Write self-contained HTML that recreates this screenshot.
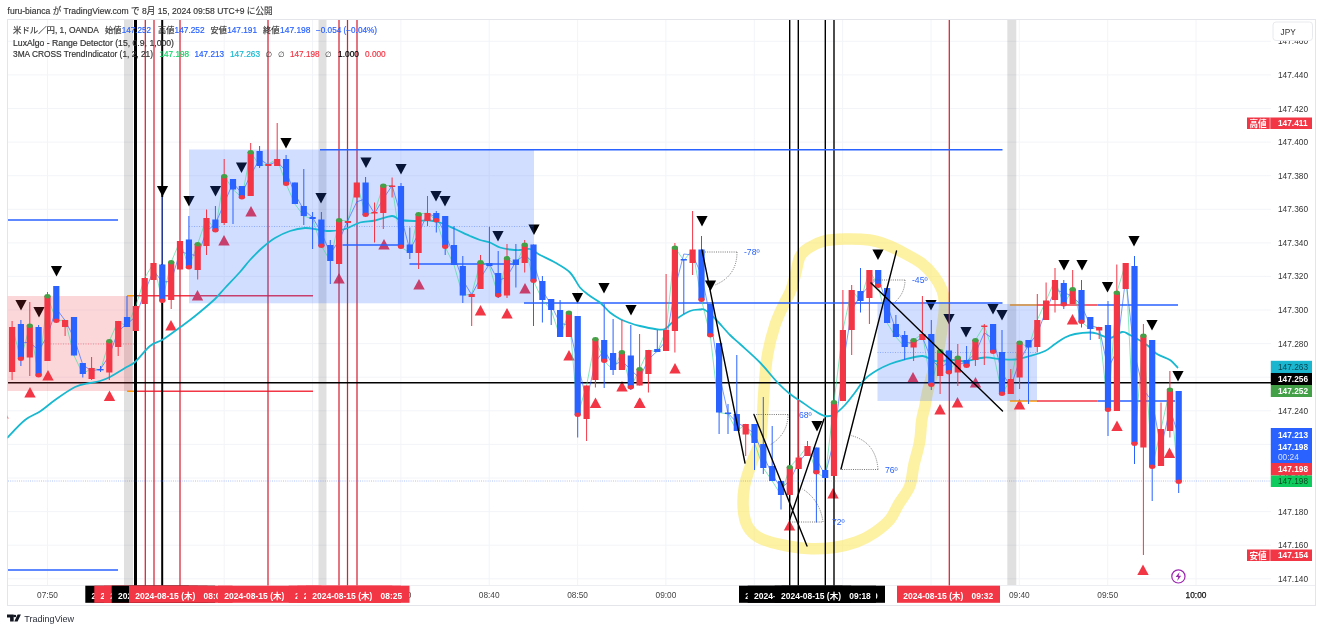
<!DOCTYPE html>
<html lang="ja"><head><meta charset="utf-8"><title>USDJPY chart</title>
<style>html,body{margin:0;padding:0;background:#fff}body{width:1323px;height:631px;overflow:hidden}</style></head>
<body>
<svg width="1323" height="631" viewBox="0 0 1323 631" style="display:block">
<defs><clipPath id="cp"><rect x="7.5" y="19.5" width="1264" height="566"/></clipPath></defs>
<rect width="1323" height="631" fill="#fff"/>
<rect x="7.5" y="19.5" width="1308" height="586" fill="#fff" stroke="#e4e5ea" stroke-width="1"/>
<path d="M8 41.3H1271 M8 74.9H1271 M8 108.5H1271 M8 142.1H1271 M8 175.7H1271 M8 209.3H1271 M8 242.9H1271 M8 276.4H1271 M8 310.0H1271 M8 343.6H1271 M8 377.2H1271 M8 410.8H1271 M8 444.4H1271 M8 478.0H1271 M8 511.6H1271 M8 545.2H1271 M8 578.8H1271 M47.5 20V585 M135.8 20V585 M224.2 20V585 M312.5 20V585 M400.9 20V585 M489.2 20V585 M577.6 20V585 M665.9 20V585 M754.3 20V585 M842.6 20V585 M931.0 20V585 M1019.3 20V585 M1107.7 20V585 M1196.0 20V585" stroke="#f3f4f8" stroke-width="1" fill="none"/>
<path d="M8 585.5H1315" stroke="#eceef2" stroke-width="1"/>
<g clip-path="url(#cp)">
<rect x="124" y="20" width="9" height="565" fill="rgba(0,0,0,0.12)"/>
<rect x="318.5" y="20" width="8.0" height="565" fill="rgba(0,0,0,0.12)"/>
<rect x="1007.3" y="20" width="9.0" height="565" fill="rgba(0,0,0,0.12)"/>
<path d="M845.0 239.0C837.4 239.2 830.1 239.5 824.0 241.0C817.9 242.5 812.5 245.4 808.5 248.0C804.5 250.6 802.1 252.6 800.0 256.6C797.9 260.6 797.5 266.4 796.0 272.0C794.5 277.6 793.0 284.7 791.0 290.0C789.0 295.3 786.7 298.2 784.0 304.0C781.3 309.8 777.8 316.5 775.0 325.0C772.2 333.5 769.3 344.2 767.5 355.0C765.7 365.8 764.9 378.3 764.0 390.0C763.1 401.7 762.7 416.3 762.0 425.0C761.3 433.7 761.8 435.4 760.0 442.0C758.2 448.6 753.6 457.0 751.0 464.4C748.4 471.8 745.7 479.1 744.4 486.5C743.1 493.9 742.8 502.0 743.3 508.7C743.8 515.4 745.1 521.7 747.7 526.5C750.3 531.3 753.6 534.5 758.8 537.5C764.0 540.5 770.7 542.4 778.8 544.2C786.9 546.1 798.4 548.1 807.6 548.6C816.8 549.1 825.9 548.6 834.0 547.5C842.1 546.4 849.7 544.4 856.4 542.0C863.1 539.6 868.5 536.7 874.0 533.0C879.5 529.3 885.6 524.6 889.7 519.8C893.8 515.0 895.2 509.9 898.5 504.3C901.8 498.8 907.0 493.1 909.6 486.5C912.2 479.9 912.3 471.8 914.0 464.4C915.7 457.0 918.3 449.4 919.6 442.0C920.9 434.6 920.9 425.8 921.8 420.0C922.7 414.2 923.8 412.0 924.8 407.0C925.8 402.0 925.9 398.7 928.0 390.0C930.1 381.3 935.0 366.3 937.5 355.0C940.0 343.7 941.8 330.7 943.0 322.0C944.2 313.3 944.7 308.3 944.5 303.0C944.3 297.7 943.8 294.5 942.0 290.0C940.2 285.5 937.3 280.4 934.0 276.0C930.7 271.6 927.0 267.4 922.0 263.6C917.0 259.8 909.8 256.1 904.0 253.0C898.2 249.9 892.8 247.2 887.0 245.0C881.2 242.8 876.5 241.0 869.5 240.0C862.5 239.0 852.6 238.8 845.0 239.0" fill="none" stroke="#fbe96a" stroke-opacity="0.62" stroke-width="11.5" stroke-linejoin="round" stroke-linecap="round"/>
<path d="M15.4 300h11.2l-5.6 10.5z" fill="#000"/>
<path d="M33.4 307h11.2l-5.6 10.5z" fill="#000"/>
<path d="M50.9 266h11.2l-5.6 10.5z" fill="#000"/>
<path d="M156.9 186h11.2l-5.6 10.5z" fill="#000"/>
<path d="M183.4 196h11.2l-5.6 10.5z" fill="#000"/>
<path d="M209.9 186h11.2l-5.6 10.5z" fill="#000"/>
<path d="M235.9 162.5h11.2l-5.6 10.5z" fill="#000"/>
<path d="M280.4 138h11.2l-5.6 10.5z" fill="#000"/>
<path d="M315.4 193h11.2l-5.6 10.5z" fill="#000"/>
<path d="M360.4 157.5h11.2l-5.6 10.5z" fill="#000"/>
<path d="M395.4 164h11.2l-5.6 10.5z" fill="#000"/>
<path d="M430.4 191h11.2l-5.6 10.5z" fill="#000"/>
<path d="M439.4 196h11.2l-5.6 10.5z" fill="#000"/>
<path d="M492.4 231h11.2l-5.6 10.5z" fill="#000"/>
<path d="M528.4 224.5h11.2l-5.6 10.5z" fill="#000"/>
<path d="M571.9 293h11.2l-5.6 10.5z" fill="#000"/>
<path d="M598.4 283h11.2l-5.6 10.5z" fill="#000"/>
<path d="M625.4 305h11.2l-5.6 10.5z" fill="#000"/>
<path d="M696.4 216h11.2l-5.6 10.5z" fill="#000"/>
<path d="M704.9 280.5h11.2l-5.6 10.5z" fill="#000"/>
<path d="M811.4 421h11.2l-5.6 10.5z" fill="#000"/>
<path d="M872.4 249.5h11.2l-5.6 10.5z" fill="#000"/>
<path d="M925.4 300h11.2l-5.6 10.5z" fill="#000"/>
<path d="M943.4 314h11.2l-5.6 10.5z" fill="#000"/>
<path d="M960.4 327h11.2l-5.6 10.5z" fill="#000"/>
<path d="M987.4 304h11.2l-5.6 10.5z" fill="#000"/>
<path d="M996.4 310h11.2l-5.6 10.5z" fill="#000"/>
<path d="M1058.4 260h11.2l-5.6 10.5z" fill="#000"/>
<path d="M1076.4 260h11.2l-5.6 10.5z" fill="#000"/>
<path d="M1101.9 282h11.2l-5.6 10.5z" fill="#000"/>
<path d="M1128.4 236h11.2l-5.6 10.5z" fill="#000"/>
<path d="M1146.4 320h11.2l-5.6 10.5z" fill="#000"/>
<path d="M1172.4 371h11.2l-5.6 10.5z" fill="#000"/>
<path d="M42.3 380.5h11.4l-5.7 -10.5z" fill="#f23645"/>
<path d="M24.3 397.5h11.4l-5.7 -10.5z" fill="#f23645"/>
<path d="M103.8 401.0h11.4l-5.7 -10.5z" fill="#f23645"/>
<path d="M165.3 330.5h11.4l-5.7 -10.5z" fill="#f23645"/>
<path d="M191.8 300.5h11.4l-5.7 -10.5z" fill="#f23645"/>
<path d="M218.3 245.5h11.4l-5.7 -10.5z" fill="#f23645"/>
<path d="M245.3 216.5h11.4l-5.7 -10.5z" fill="#f23645"/>
<path d="M333.3 283.5h11.4l-5.7 -10.5z" fill="#f23645"/>
<path d="M378.3 249.5h11.4l-5.7 -10.5z" fill="#f23645"/>
<path d="M413.3 289.5h11.4l-5.7 -10.5z" fill="#f23645"/>
<path d="M519.3 293.5h11.4l-5.7 -10.5z" fill="#f23645"/>
<path d="M474.8 315.5h11.4l-5.7 -10.5z" fill="#f23645"/>
<path d="M501.3 318.5h11.4l-5.7 -10.5z" fill="#f23645"/>
<path d="M563.3 360.5h11.4l-5.7 -10.5z" fill="#f23645"/>
<path d="M589.8 408.0h11.4l-5.7 -10.5z" fill="#f23645"/>
<path d="M616.3 391.5h11.4l-5.7 -10.5z" fill="#f23645"/>
<path d="M633.8 408.0h11.4l-5.7 -10.5z" fill="#f23645"/>
<path d="M669.3 373.5h11.4l-5.7 -10.5z" fill="#f23645"/>
<path d="M634.3 408.0h11.4l-5.7 -10.5z" fill="#f23645"/>
<path d="M907.3 382.5h11.4l-5.7 -10.5z" fill="#f23645"/>
<path d="M934.3 414.5h11.4l-5.7 -10.5z" fill="#f23645"/>
<path d="M951.8 407.5h11.4l-5.7 -10.5z" fill="#f23645"/>
<path d="M969.8 387.5h11.4l-5.7 -10.5z" fill="#f23645"/>
<path d="M1013.8 409.5h11.4l-5.7 -10.5z" fill="#f23645"/>
<path d="M1066.8 324.5h11.4l-5.7 -10.5z" fill="#f23645"/>
<path d="M1111.3 431.0h11.4l-5.7 -10.5z" fill="#f23645"/>
<path d="M1163.8 458.0h11.4l-5.7 -10.5z" fill="#f23645"/>
<path d="M783.8 530.5h11.4l-5.7 -10.5z" fill="#f23645"/>
<path d="M827.3 498.5h11.4l-5.7 -10.5z" fill="#f23645"/>
<path d="M1137.3 575.0h11.4l-5.7 -10.5z" fill="#f23645"/>
<path d="M-2.7 418.5h11.4l-5.7 -10.5z" fill="#f23645"/>
<path d="M135 295.7H313M135 391.2H313M1037 305H1097.5M1037 401H1097.5" stroke="#f23645" stroke-width="1.5"/>
<path d="M127 295.7H135M127 391.2H135M1010 305H1037M1010 401H1037" stroke="#ff9800" stroke-width="1.5"/>
<path d="M145.3 20V586" stroke="#d42236" stroke-width="1.25"/>
<path d="M154 20V586" stroke="#d42236" stroke-width="1.25"/>
<path d="M180 20V586" stroke="#d42236" stroke-width="1.25"/>
<path d="M268 20V586" stroke="#d42236" stroke-width="1.25"/>
<path d="M339 20V586" stroke="#d42236" stroke-width="1.25"/>
<path d="M347.5 20V586" stroke="#d42236" stroke-width="1.25"/>
<path d="M357 20V586" stroke="#d42236" stroke-width="1.25"/>
<path d="M949.3 20V586" stroke="#d42236" stroke-width="1.25"/>
<path d="M135.5 20V586" stroke="#000" stroke-width="3"/>
<path d="M162.2 20V197M162.2 264V586" stroke="#000" stroke-width="2"/>
<path d="M162.2 197V265" stroke="#1c2f8f" stroke-width="1.5"/>
<path d="M789.7 20V586" stroke="#000" stroke-width="1.4"/>
<path d="M798.3 20V586" stroke="#000" stroke-width="1.4"/>
<path d="M825.3 20V586" stroke="#000" stroke-width="1.4"/>
<path d="M834 20V586" stroke="#000" stroke-width="1.4"/>
<path d="M8 382.7H1271" stroke="#000" stroke-width="1.6"/>
<rect x="7.5" y="296" width="125" height="95" fill="rgba(242,54,69,0.2)"/>
<rect x="189" y="149.5" width="131" height="153.8" fill="rgba(41,98,255,0.21)"/>
<rect x="320" y="149.5" width="214" height="153.8" fill="rgba(41,98,255,0.21)"/>
<rect x="877.5" y="304" width="159.5" height="97" fill="rgba(41,98,255,0.21)"/>
<path d="M8 220H118M8 570H118" stroke="#2962ff" stroke-width="1.6"/>
<path d="M320 149.7H1002.5M524 303H1002.5M1097.5 305H1178M1097.5 401H1175" stroke="#2962ff" stroke-width="1.6"/>
<path d="M342.5 245H400M409.5 264H517.5" stroke="#2962ff" stroke-width="1.6"/>
<path d="M48 344H135" stroke="#f23645" stroke-width="0.8" stroke-dasharray="1 1.5" opacity="0.6"/>
<path d="M189 226.5H534" stroke="#2962ff" stroke-width="0.8" stroke-dasharray="1 1.5" opacity="0.5"/>
<path d="M877.5 352.5H1037" stroke="#2962ff" stroke-width="0.8" stroke-dasharray="1 1.5" opacity="0.5"/>
<path d="M8 481H1271" stroke="#2962ff" stroke-width="0.7" stroke-dasharray="1 1.2" opacity="0.55"/>
<polyline points="12.1,327.0 20.9,359.0 29.8,325.5 38.6,375.5 47.5,296.0 56.3,321.0 65.1,320.0 74.0,355.5 82.8,374.0 91.6,368.0 100.5,370.2 109.3,341.0 118.2,321.0 127.0,327.0 135.8,306.0 144.7,278.0 153.5,263.0 162.3,301.0 171.2,262.0 180.0,241.0 188.9,267.5 197.7,244.0 206.5,218.0 215.4,230.5 224.2,176.0 233.0,189.5 241.9,197.5 250.7,152.0 259.6,166.0 268.4,164.0 277.2,159.0 286.1,184.0 294.9,204.0 303.8,216.0 312.6,219.0 321.4,246.0 330.3,261.0 339.1,220.0 347.9,221.0 356.8,182.5 365.6,215.0 374.5,212.0 383.3,185.5 392.1,185.5 401.0,247.0 409.8,253.0 418.6,214.0 427.5,213.0 436.3,220.5 445.2,247.0 454.0,265.0 462.8,295.5 471.7,294.0 480.5,262.0 489.4,266.0 498.2,295.5 507.0,258.0 515.9,265.0 524.7,244.5 533.5,281.0 542.4,300.0 551.2,310.0 560.1,337.0 568.9,312.5 577.7,415.0 586.6,385.5 595.4,339.0 604.2,361.0 613.1,370.0 621.9,352.0 630.8,387.5 639.6,369.0 648.4,350.0 657.3,352.0 666.1,330.0 674.9,247.5 683.8,260.5 692.6,249.5 701.5,300.0 710.3,335.5 719.1,412.5 728.0,414.0 736.8,431.0 745.7,424.0 754.5,443.0 763.3,468.0 772.2,481.0 781.0,495.0 789.8,467.0 798.7,457.5 807.5,446.0 816.4,472.5 825.2,478.0 834.0,402.0 842.9,330.0 851.7,290.0 860.5,301.0 869.4,270.0 878.2,286.0 887.1,323.0 895.9,337.0 904.7,347.0 913.6,340.0 922.4,334.0 931.3,385.0 940.1,351.0 948.9,372.5 957.8,357.5 966.6,366.0 975.4,340.0 984.3,325.5 993.1,352.0 1002.0,394.0 1010.8,379.0 1019.6,342.5 1028.5,347.5 1037.3,320.0 1046.1,300.5 1055.0,280.0 1063.8,304.5 1072.7,289.0 1081.5,322.0 1090.3,329.0 1099.2,327.0 1108.0,410.0 1116.8,292.5 1125.7,263.0 1134.5,444.0 1143.4,335.5 1152.2,467.0 1161.0,429.0 1169.9,389.5 1178.7,482.0" fill="none" stroke="#3ddc97" stroke-width="0.8" opacity="0.8"/>
<polyline points="20.9,343.0 29.8,342.2 38.6,350.5 47.5,335.8 56.3,308.5 65.1,320.5 74.0,337.8 82.8,364.8 91.6,371.0 100.5,369.1 109.3,355.6 118.2,331.0 127.0,324.0 135.8,316.5 144.7,292.0 153.5,270.5 162.3,282.0 171.2,281.5 180.0,251.5 188.9,254.2 197.7,255.8 206.5,231.0 215.4,224.2 224.2,203.2 233.0,182.8 241.9,193.5 250.7,174.8 259.6,159.0 268.4,165.0 277.2,161.5 286.1,171.5 294.9,194.0 303.8,210.0 312.6,217.5 321.4,232.5 330.3,253.5 339.1,240.5 347.9,220.5 356.8,201.8 365.6,198.8 374.5,213.5 383.3,198.8 392.1,185.5 401.0,216.2 409.8,250.0 418.6,233.5 427.5,213.5 436.3,216.8 445.2,233.8 454.0,256.0 462.8,280.2 471.7,294.8 480.5,278.0 489.4,264.0 498.2,280.8 507.0,276.8 515.9,261.5 524.7,254.8 533.5,262.8 542.4,290.5 551.2,305.0 560.1,323.5 568.9,324.8 577.7,363.8 586.6,400.2 595.4,362.2 604.2,350.0 613.1,365.5 621.9,361.0 630.8,369.8 639.6,378.2 648.4,359.5 657.3,351.0 666.1,341.0 674.9,288.8 683.8,254.0 692.6,255.0 701.5,274.8 710.3,317.8 719.1,374.0 728.0,413.2 736.8,422.5 745.7,427.5 754.5,433.5 763.3,455.5 772.2,474.5 781.0,488.0 789.8,481.0 798.7,462.2 807.5,451.8 816.4,459.2 825.2,475.2 834.0,440.0 842.9,366.0 851.7,310.0 860.5,295.5 869.4,285.5 878.2,278.0 887.1,304.5 895.9,330.0 904.7,342.0 913.6,343.5 922.4,337.0 931.3,359.5 940.1,368.0 948.9,361.8 957.8,365.0 966.6,361.8 975.4,353.0 984.3,332.8 993.1,338.8 1002.0,373.0 1010.8,386.5 1019.6,360.8 1028.5,345.0 1037.3,333.8 1046.1,310.2 1055.0,290.2 1063.8,292.2 1072.7,296.8 1081.5,305.5 1090.3,325.5 1099.2,328.0 1108.0,368.5 1116.8,351.2 1125.7,277.8 1134.5,353.5 1143.4,389.8 1152.2,401.2 1161.0,448.0 1169.9,409.2 1178.7,435.8" fill="none" stroke="#2962ff" stroke-width="0.8" opacity="0.8"/>
<path d="M7.0 438.0C10.0 435.0 19.5 424.4 25.0 420.0C30.5 415.6 35.0 414.8 40.0 411.5C45.0 408.2 49.2 404.1 55.0 400.0C60.8 395.9 69.2 389.8 75.0 387.0C80.8 384.2 85.8 384.0 90.0 383.0C94.2 382.0 96.7 382.0 100.0 381.0C103.3 380.0 105.8 379.2 110.0 377.0C114.2 374.8 120.8 370.5 125.0 368.0C129.2 365.5 130.8 365.7 135.0 362.0C139.2 358.3 145.5 349.7 150.0 346.0C154.5 342.3 157.8 342.5 162.0 340.0C166.2 337.5 170.3 334.3 175.0 331.0C179.7 327.7 185.8 323.2 190.0 320.0C194.2 316.8 195.8 315.5 200.0 312.0C204.2 308.5 210.8 303.0 215.0 299.0C219.2 295.0 220.8 292.5 225.0 288.0C229.2 283.5 235.8 276.7 240.0 272.0C244.2 267.3 246.3 264.0 250.0 260.0C253.7 256.0 257.8 251.7 262.0 248.0C266.2 244.3 270.3 240.8 275.0 238.0C279.7 235.2 285.0 232.7 290.0 231.0C295.0 229.3 300.0 228.2 305.0 228.0C310.0 227.8 315.8 229.5 320.0 230.0C324.2 230.5 325.8 231.2 330.0 231.0C334.2 230.8 340.0 230.4 345.0 229.0C350.0 227.6 355.0 223.9 360.0 222.5C365.0 221.1 369.7 221.6 375.0 220.5C380.3 219.4 387.8 216.1 392.0 216.0C396.2 215.9 396.2 219.2 400.0 220.0C403.8 220.8 410.0 220.9 415.0 221.0C420.0 221.1 425.8 220.2 430.0 220.5C434.2 220.8 435.8 221.1 440.0 222.5C444.2 223.9 450.0 226.8 455.0 229.0C460.0 231.2 465.8 234.2 470.0 236.0C474.2 237.8 476.7 238.9 480.0 240.0C483.3 241.1 486.7 241.2 490.0 242.5C493.3 243.8 496.7 246.3 500.0 247.5C503.3 248.7 506.7 249.1 510.0 249.5C513.3 249.9 516.7 250.1 520.0 250.0C523.3 249.9 526.7 248.2 530.0 249.0C533.3 249.8 535.8 252.8 540.0 255.0C544.2 257.2 550.0 259.6 555.0 262.5C560.0 265.4 565.8 268.3 570.0 272.5C574.2 276.7 576.7 283.6 580.0 287.5C583.3 291.4 586.7 293.5 590.0 296.0C593.3 298.5 596.7 299.8 600.0 302.5C603.3 305.2 606.7 309.8 610.0 312.5C613.3 315.2 616.7 317.2 620.0 319.0C623.3 320.8 626.7 321.8 630.0 323.0C633.3 324.2 635.8 325.0 640.0 326.0C644.2 327.0 650.8 328.5 655.0 329.0C659.2 329.5 661.7 330.5 665.0 329.0C668.3 327.5 670.8 323.0 675.0 320.0C679.2 317.0 685.8 312.8 690.0 311.0C694.2 309.2 697.5 309.7 700.0 309.5C702.5 309.3 702.5 308.5 705.0 310.0C707.5 311.5 710.8 314.3 715.0 318.5C719.2 322.7 725.8 330.8 730.0 335.0C734.2 339.2 735.0 339.4 740.0 344.0C745.0 348.6 753.8 356.1 760.0 362.5C766.2 368.9 772.5 377.2 777.5 382.5C782.5 387.8 785.8 390.7 790.0 394.0C794.2 397.3 798.3 399.7 802.5 402.5C806.7 405.3 811.2 408.8 815.0 411.0C818.8 413.2 821.8 415.4 825.0 416.0C828.2 416.6 830.7 416.3 834.0 414.5C837.3 412.7 841.5 408.7 845.0 405.0C848.5 401.3 851.7 396.8 855.0 392.5C858.3 388.2 861.2 382.8 865.0 379.0C868.8 375.2 873.3 372.5 877.5 370.0C881.7 367.5 885.8 365.7 890.0 364.0C894.2 362.3 897.1 361.3 902.5 360.0C907.9 358.7 917.1 355.8 922.5 356.0C927.9 356.2 930.0 360.3 935.0 361.0C940.0 361.7 947.5 360.0 952.5 360.0C957.5 360.0 959.6 361.4 965.0 361.0C970.4 360.6 979.2 357.8 985.0 357.5C990.8 357.2 995.0 358.7 1000.0 359.0C1005.0 359.3 1010.0 360.0 1015.0 359.5C1020.0 359.0 1025.0 357.4 1030.0 356.0C1035.0 354.6 1040.8 353.0 1045.0 351.0C1049.2 349.0 1051.7 346.2 1055.0 344.0C1058.3 341.8 1061.7 339.2 1065.0 337.5C1068.3 335.8 1070.8 334.8 1075.0 334.0C1079.2 333.2 1086.2 332.5 1090.0 332.5C1093.8 332.5 1094.7 333.1 1098.0 334.0C1101.3 334.9 1106.0 338.3 1110.0 338.0C1114.0 337.7 1118.7 332.5 1122.0 332.0C1125.3 331.5 1125.8 332.8 1130.0 335.0C1134.2 337.2 1142.5 341.8 1147.0 345.0C1151.5 348.2 1153.2 351.5 1157.0 354.0C1160.8 356.5 1166.5 357.7 1170.0 360.0C1173.5 362.3 1176.7 366.7 1178.0 368.0" fill="none" stroke="#17b8d0" stroke-width="1.8" stroke-linejoin="round"/>
<path d="M12.1 321V380" stroke="#f23645" stroke-width="1"/>
<rect x="9.0" y="327" width="6.2" height="45.0" fill="#f23645"/>
<path d="M20.9 320V366" stroke="#2962ff" stroke-width="1"/>
<rect x="17.8" y="324" width="6.2" height="35.0" fill="#2962ff"/>
<ellipse cx="20.9" cy="358.7" rx="3.1" ry="2.2" fill="#f23645"/>
<path d="M29.8 302V376" stroke="#f23645" stroke-width="1"/>
<rect x="26.7" y="325.5" width="6.2" height="32.0" fill="#f23645"/>
<ellipse cx="29.8" cy="325.8" rx="3.1" ry="2.2" fill="#43a047"/>
<path d="M38.6 325V377" stroke="#2962ff" stroke-width="1"/>
<rect x="35.5" y="327" width="6.2" height="48.5" fill="#2962ff"/>
<ellipse cx="38.6" cy="375.2" rx="3.1" ry="2.2" fill="#f23645"/>
<path d="M47.5 292V361" stroke="#f23645" stroke-width="1"/>
<rect x="44.4" y="296" width="6.2" height="65.0" fill="#f23645"/>
<ellipse cx="47.5" cy="296.3" rx="3.1" ry="2.2" fill="#43a047"/>
<path d="M56.3 286V321" stroke="#2962ff" stroke-width="1"/>
<rect x="53.2" y="286" width="6.2" height="35.0" fill="#2962ff"/>
<ellipse cx="56.3" cy="320.7" rx="3.1" ry="2.2" fill="#f23645"/>
<path d="M65.1 320V336" stroke="#f23645" stroke-width="1"/>
<rect x="62.0" y="320" width="6.2" height="7.0" fill="#f23645"/>
<path d="M74.0 317V355.5" stroke="#2962ff" stroke-width="1"/>
<rect x="70.9" y="317" width="6.2" height="38.5" fill="#2962ff"/>
<path d="M82.8 363V377.5" stroke="#2962ff" stroke-width="1"/>
<rect x="79.7" y="363" width="6.2" height="11.0" fill="#2962ff"/>
<path d="M91.6 357V380" stroke="#f23645" stroke-width="1"/>
<rect x="88.5" y="368" width="6.2" height="11.0" fill="#f23645"/>
<path d="M100.5 366V372" stroke="#2962ff" stroke-width="1"/>
<rect x="97.4" y="369" width="6.2" height="1.4" fill="#2962ff"/>
<path d="M109.3 341V380" stroke="#f23645" stroke-width="1"/>
<rect x="106.2" y="341" width="6.2" height="31.5" fill="#f23645"/>
<ellipse cx="109.3" cy="341.3" rx="3.1" ry="2.2" fill="#43a047"/>
<path d="M118.2 321V356" stroke="#f23645" stroke-width="1"/>
<rect x="115.1" y="321" width="6.2" height="26.0" fill="#f23645"/>
<path d="M127.0 296V327" stroke="#2962ff" stroke-width="1"/>
<rect x="123.9" y="317" width="6.2" height="10.0" fill="#2962ff"/>
<path d="M135.8 306V331" stroke="#f23645" stroke-width="1"/>
<rect x="132.7" y="306" width="6.2" height="25.0" fill="#f23645"/>
<path d="M144.7 278V304" stroke="#f23645" stroke-width="1"/>
<rect x="141.6" y="278" width="6.2" height="26.0" fill="#f23645"/>
<path d="M153.5 263V280" stroke="#f23645" stroke-width="1"/>
<rect x="150.4" y="263" width="6.2" height="17.0" fill="#f23645"/>
<path d="M162.3 264.5V301" stroke="#2962ff" stroke-width="1"/>
<rect x="159.2" y="264.5" width="6.2" height="36.5" fill="#2962ff"/>
<ellipse cx="162.3" cy="300.7" rx="3.1" ry="2.2" fill="#f23645"/>
<path d="M171.2 262V309" stroke="#f23645" stroke-width="1"/>
<rect x="168.1" y="262" width="6.2" height="38.0" fill="#f23645"/>
<ellipse cx="171.2" cy="262.3" rx="3.1" ry="2.2" fill="#43a047"/>
<path d="M180.0 241V269.5" stroke="#f23645" stroke-width="1"/>
<rect x="176.9" y="241" width="6.2" height="28.5" fill="#f23645"/>
<path d="M188.9 216V267.5" stroke="#2962ff" stroke-width="1"/>
<rect x="185.8" y="239.5" width="6.2" height="28.0" fill="#2962ff"/>
<ellipse cx="188.9" cy="267.2" rx="3.1" ry="2.2" fill="#f23645"/>
<path d="M197.7 244V279.5" stroke="#f23645" stroke-width="1"/>
<rect x="194.6" y="244" width="6.2" height="26.0" fill="#f23645"/>
<ellipse cx="197.7" cy="244.3" rx="3.1" ry="2.2" fill="#43a047"/>
<path d="M206.5 209.5V255" stroke="#f23645" stroke-width="1"/>
<rect x="203.4" y="218" width="6.2" height="28.0" fill="#f23645"/>
<path d="M215.4 206V230.5" stroke="#2962ff" stroke-width="1"/>
<rect x="212.3" y="219.5" width="6.2" height="11.0" fill="#2962ff"/>
<ellipse cx="215.4" cy="230.2" rx="3.1" ry="2.2" fill="#f23645"/>
<path d="M224.2 159V225" stroke="#f23645" stroke-width="1"/>
<rect x="221.1" y="176" width="6.2" height="47.0" fill="#f23645"/>
<ellipse cx="224.2" cy="176.3" rx="3.1" ry="2.2" fill="#43a047"/>
<path d="M233.0 179V224" stroke="#2962ff" stroke-width="1"/>
<rect x="229.9" y="179" width="6.2" height="10.5" fill="#2962ff"/>
<path d="M241.9 186V197.5" stroke="#2962ff" stroke-width="1"/>
<rect x="238.8" y="186" width="6.2" height="11.5" fill="#2962ff"/>
<ellipse cx="241.9" cy="197.2" rx="3.1" ry="2.2" fill="#f23645"/>
<path d="M250.7 143V196" stroke="#f23645" stroke-width="1"/>
<rect x="247.6" y="152" width="6.2" height="44.0" fill="#f23645"/>
<ellipse cx="250.7" cy="152.3" rx="3.1" ry="2.2" fill="#43a047"/>
<path d="M259.6 146V168" stroke="#2962ff" stroke-width="1"/>
<rect x="256.5" y="151" width="6.2" height="15.0" fill="#2962ff"/>
<path d="M268.4 164V166" stroke="#f23645" stroke-width="1"/>
<rect x="265.3" y="164" width="6.2" height="2.0" fill="#f23645"/>
<path d="M277.2 123V166" stroke="#f23645" stroke-width="1"/>
<rect x="274.1" y="159" width="6.2" height="7.0" fill="#f23645"/>
<path d="M286.1 155V184" stroke="#2962ff" stroke-width="1"/>
<rect x="283.0" y="159" width="6.2" height="25.0" fill="#2962ff"/>
<ellipse cx="286.1" cy="183.7" rx="3.1" ry="2.2" fill="#f23645"/>
<path d="M294.9 182.5V204" stroke="#2962ff" stroke-width="1"/>
<rect x="291.8" y="182.5" width="6.2" height="21.5" fill="#2962ff"/>
<path d="M303.8 169V225" stroke="#2962ff" stroke-width="1"/>
<rect x="300.7" y="206" width="6.2" height="10.0" fill="#2962ff"/>
<path d="M312.6 212V249" stroke="#2962ff" stroke-width="1"/>
<rect x="309.5" y="217" width="6.2" height="2.0" fill="#2962ff"/>
<path d="M321.4 212V246" stroke="#2962ff" stroke-width="1"/>
<rect x="318.3" y="219.5" width="6.2" height="26.5" fill="#2962ff"/>
<ellipse cx="321.4" cy="245.7" rx="3.1" ry="2.2" fill="#f23645"/>
<path d="M330.3 240V284" stroke="#2962ff" stroke-width="1"/>
<rect x="327.2" y="245" width="6.2" height="16.0" fill="#2962ff"/>
<path d="M339.1 220V264" stroke="#f23645" stroke-width="1"/>
<rect x="336.0" y="220" width="6.2" height="44.0" fill="#f23645"/>
<ellipse cx="339.1" cy="220.3" rx="3.1" ry="2.2" fill="#43a047"/>
<path d="M347.9 221V223" stroke="#f23645" stroke-width="1"/>
<rect x="344.8" y="221" width="6.2" height="2.0" fill="#f23645"/>
<path d="M356.8 182.5V197.5" stroke="#f23645" stroke-width="1"/>
<rect x="353.7" y="182.5" width="6.2" height="15.0" fill="#f23645"/>
<path d="M365.6 177V215" stroke="#2962ff" stroke-width="1"/>
<rect x="362.5" y="182.5" width="6.2" height="32.5" fill="#2962ff"/>
<ellipse cx="365.6" cy="214.7" rx="3.1" ry="2.2" fill="#f23645"/>
<path d="M374.5 202.5V242.5" stroke="#f23645" stroke-width="1"/>
<rect x="371.4" y="212" width="6.2" height="1.5" fill="#f23645"/>
<path d="M383.3 185.5V229" stroke="#f23645" stroke-width="1"/>
<rect x="380.2" y="185.5" width="6.2" height="27.5" fill="#f23645"/>
<ellipse cx="383.3" cy="185.8" rx="3.1" ry="2.2" fill="#43a047"/>
<path d="M392.1 177.5V197.5" stroke="#f23645" stroke-width="1"/>
<rect x="389.0" y="185.5" width="6.2" height="1.5" fill="#f23645"/>
<path d="M401.0 183V247" stroke="#2962ff" stroke-width="1"/>
<rect x="397.9" y="186" width="6.2" height="61.0" fill="#2962ff"/>
<ellipse cx="401.0" cy="246.7" rx="3.1" ry="2.2" fill="#f23645"/>
<path d="M409.8 227.5V259" stroke="#2962ff" stroke-width="1"/>
<rect x="406.7" y="244.5" width="6.2" height="8.5" fill="#2962ff"/>
<path d="M418.6 214V269" stroke="#f23645" stroke-width="1"/>
<rect x="415.5" y="214" width="6.2" height="39.0" fill="#f23645"/>
<ellipse cx="418.6" cy="214.3" rx="3.1" ry="2.2" fill="#43a047"/>
<path d="M427.5 196V226" stroke="#f23645" stroke-width="1"/>
<rect x="424.4" y="213" width="6.2" height="8.0" fill="#f23645"/>
<path d="M436.3 211V232.5" stroke="#2962ff" stroke-width="1"/>
<rect x="433.2" y="213" width="6.2" height="7.5" fill="#2962ff"/>
<ellipse cx="436.3" cy="220.2" rx="3.1" ry="2.2" fill="#f23645"/>
<path d="M445.2 216V255" stroke="#2962ff" stroke-width="1"/>
<rect x="442.1" y="216" width="6.2" height="31.0" fill="#2962ff"/>
<ellipse cx="445.2" cy="246.7" rx="3.1" ry="2.2" fill="#f23645"/>
<path d="M454.0 226V265" stroke="#2962ff" stroke-width="1"/>
<rect x="450.9" y="245" width="6.2" height="20.0" fill="#2962ff"/>
<path d="M462.8 256V303" stroke="#2962ff" stroke-width="1"/>
<rect x="459.7" y="266" width="6.2" height="29.5" fill="#2962ff"/>
<path d="M471.7 294V326" stroke="#f23645" stroke-width="1"/>
<rect x="468.6" y="294" width="6.2" height="3.0" fill="#f23645"/>
<path d="M480.5 255V289" stroke="#f23645" stroke-width="1"/>
<rect x="477.4" y="262" width="6.2" height="27.0" fill="#f23645"/>
<ellipse cx="480.5" cy="262.3" rx="3.1" ry="2.2" fill="#43a047"/>
<path d="M489.4 227V266" stroke="#2962ff" stroke-width="1"/>
<rect x="486.3" y="263" width="6.2" height="3.0" fill="#2962ff"/>
<path d="M498.2 251V298" stroke="#2962ff" stroke-width="1"/>
<rect x="495.1" y="273" width="6.2" height="22.5" fill="#2962ff"/>
<ellipse cx="498.2" cy="295.2" rx="3.1" ry="2.2" fill="#f23645"/>
<path d="M507.0 244V298" stroke="#f23645" stroke-width="1"/>
<rect x="503.9" y="258" width="6.2" height="37.5" fill="#f23645"/>
<ellipse cx="507.0" cy="258.3" rx="3.1" ry="2.2" fill="#43a047"/>
<path d="M515.9 244V287.5" stroke="#2962ff" stroke-width="1"/>
<rect x="512.8" y="259.5" width="6.2" height="5.5" fill="#2962ff"/>
<path d="M524.7 240V272.5" stroke="#f23645" stroke-width="1"/>
<rect x="521.6" y="244.5" width="6.2" height="18.5" fill="#f23645"/>
<ellipse cx="524.7" cy="244.8" rx="3.1" ry="2.2" fill="#43a047"/>
<path d="M533.5 244.5V326" stroke="#2962ff" stroke-width="1"/>
<rect x="530.4" y="244.5" width="6.2" height="36.5" fill="#2962ff"/>
<ellipse cx="533.5" cy="280.7" rx="3.1" ry="2.2" fill="#f23645"/>
<path d="M542.4 276V322.5" stroke="#2962ff" stroke-width="1"/>
<rect x="539.3" y="281" width="6.2" height="19.0" fill="#2962ff"/>
<path d="M551.2 299V325" stroke="#2962ff" stroke-width="1"/>
<rect x="548.1" y="299" width="6.2" height="11.0" fill="#2962ff"/>
<path d="M560.1 300V337" stroke="#2962ff" stroke-width="1"/>
<rect x="557.0" y="310" width="6.2" height="27.0" fill="#2962ff"/>
<path d="M568.9 312.5V337" stroke="#f23645" stroke-width="1"/>
<rect x="565.8" y="312.5" width="6.2" height="24.5" fill="#f23645"/>
<ellipse cx="568.9" cy="312.8" rx="3.1" ry="2.2" fill="#43a047"/>
<path d="M577.7 316V437.5" stroke="#2962ff" stroke-width="1"/>
<rect x="574.6" y="316" width="6.2" height="99.0" fill="#2962ff"/>
<ellipse cx="577.7" cy="414.7" rx="3.1" ry="2.2" fill="#f23645"/>
<path d="M586.6 385.5V441" stroke="#f23645" stroke-width="1"/>
<rect x="583.5" y="385.5" width="6.2" height="33.5" fill="#f23645"/>
<path d="M595.4 339V387.5" stroke="#f23645" stroke-width="1"/>
<rect x="592.3" y="339" width="6.2" height="41.0" fill="#f23645"/>
<ellipse cx="595.4" cy="339.3" rx="3.1" ry="2.2" fill="#43a047"/>
<path d="M604.2 304V388" stroke="#2962ff" stroke-width="1"/>
<rect x="601.1" y="340" width="6.2" height="21.0" fill="#2962ff"/>
<ellipse cx="604.2" cy="360.7" rx="3.1" ry="2.2" fill="#f23645"/>
<path d="M613.1 319V375" stroke="#2962ff" stroke-width="1"/>
<rect x="610.0" y="353" width="6.2" height="17.0" fill="#2962ff"/>
<path d="M621.9 320V370" stroke="#f23645" stroke-width="1"/>
<rect x="618.8" y="352" width="6.2" height="18.0" fill="#f23645"/>
<ellipse cx="621.9" cy="352.3" rx="3.1" ry="2.2" fill="#43a047"/>
<path d="M630.8 325V390" stroke="#2962ff" stroke-width="1"/>
<rect x="627.7" y="355.5" width="6.2" height="32.0" fill="#2962ff"/>
<ellipse cx="630.8" cy="387.2" rx="3.1" ry="2.2" fill="#f23645"/>
<path d="M639.6 334V385.5" stroke="#f23645" stroke-width="1"/>
<rect x="636.5" y="369" width="6.2" height="16.5" fill="#f23645"/>
<ellipse cx="639.6" cy="369.3" rx="3.1" ry="2.2" fill="#43a047"/>
<path d="M648.4 350V392.5" stroke="#f23645" stroke-width="1"/>
<rect x="645.3" y="350" width="6.2" height="24.0" fill="#f23645"/>
<path d="M657.3 330V352" stroke="#2962ff" stroke-width="1"/>
<rect x="654.2" y="349" width="6.2" height="3.0" fill="#2962ff"/>
<path d="M666.1 274V351" stroke="#f23645" stroke-width="1"/>
<rect x="663.0" y="330" width="6.2" height="21.0" fill="#f23645"/>
<path d="M674.9 243V352.5" stroke="#f23645" stroke-width="1"/>
<rect x="671.8" y="247.5" width="6.2" height="83.5" fill="#f23645"/>
<ellipse cx="674.9" cy="247.8" rx="3.1" ry="2.2" fill="#43a047"/>
<path d="M683.8 259V314" stroke="#2962ff" stroke-width="1"/>
<rect x="680.7" y="259" width="6.2" height="1.5" fill="#2962ff"/>
<path d="M692.6 211V275" stroke="#f23645" stroke-width="1"/>
<rect x="689.5" y="249.5" width="6.2" height="13.5" fill="#f23645"/>
<path d="M701.5 236V300" stroke="#2962ff" stroke-width="1"/>
<rect x="698.4" y="249.5" width="6.2" height="50.5" fill="#2962ff"/>
<ellipse cx="701.5" cy="299.7" rx="3.1" ry="2.2" fill="#f23645"/>
<path d="M710.3 304V335.5" stroke="#2962ff" stroke-width="1"/>
<rect x="707.2" y="304" width="6.2" height="31.5" fill="#2962ff"/>
<ellipse cx="710.3" cy="335.2" rx="3.1" ry="2.2" fill="#f23645"/>
<path d="M719.1 343V434" stroke="#2962ff" stroke-width="1"/>
<rect x="716.0" y="343" width="6.2" height="69.5" fill="#2962ff"/>
<path d="M728.0 404V434" stroke="#2962ff" stroke-width="1"/>
<rect x="724.9" y="412.5" width="6.2" height="1.5" fill="#2962ff"/>
<path d="M736.8 355V431" stroke="#2962ff" stroke-width="1"/>
<rect x="733.7" y="414" width="6.2" height="17.0" fill="#2962ff"/>
<path d="M745.7 424V456" stroke="#f23645" stroke-width="1"/>
<rect x="742.6" y="424" width="6.2" height="10.5" fill="#f23645"/>
<path d="M754.5 424V470" stroke="#2962ff" stroke-width="1"/>
<rect x="751.4" y="424" width="6.2" height="19.0" fill="#2962ff"/>
<path d="M763.3 397V474" stroke="#2962ff" stroke-width="1"/>
<rect x="760.2" y="444" width="6.2" height="24.0" fill="#2962ff"/>
<path d="M772.2 426V481" stroke="#2962ff" stroke-width="1"/>
<rect x="769.1" y="466" width="6.2" height="15.0" fill="#2962ff"/>
<path d="M781.0 481V509.5" stroke="#2962ff" stroke-width="1"/>
<rect x="777.9" y="481" width="6.2" height="14.0" fill="#2962ff"/>
<path d="M789.8 467V495" stroke="#f23645" stroke-width="1"/>
<rect x="786.7" y="467" width="6.2" height="28.0" fill="#f23645"/>
<ellipse cx="789.8" cy="467.3" rx="3.1" ry="2.2" fill="#43a047"/>
<path d="M798.7 400V469" stroke="#f23645" stroke-width="1"/>
<rect x="795.6" y="457.5" width="6.2" height="11.5" fill="#f23645"/>
<path d="M807.5 441V456" stroke="#f23645" stroke-width="1"/>
<rect x="804.4" y="446" width="6.2" height="10.0" fill="#f23645"/>
<path d="M816.4 447.5V522.5" stroke="#2962ff" stroke-width="1"/>
<rect x="813.3" y="447.5" width="6.2" height="25.0" fill="#2962ff"/>
<ellipse cx="816.4" cy="472.2" rx="3.1" ry="2.2" fill="#f23645"/>
<path d="M825.2 470V478" stroke="#2962ff" stroke-width="1"/>
<rect x="822.1" y="470" width="6.2" height="8.0" fill="#2962ff"/>
<path d="M834.0 402V476" stroke="#f23645" stroke-width="1"/>
<rect x="830.9" y="402" width="6.2" height="74.0" fill="#f23645"/>
<ellipse cx="834.0" cy="402.3" rx="3.1" ry="2.2" fill="#43a047"/>
<path d="M842.9 290V401" stroke="#f23645" stroke-width="1"/>
<rect x="839.8" y="330" width="6.2" height="71.0" fill="#f23645"/>
<path d="M851.7 285V355" stroke="#f23645" stroke-width="1"/>
<rect x="848.6" y="290" width="6.2" height="40.0" fill="#f23645"/>
<path d="M860.5 268V312.5" stroke="#2962ff" stroke-width="1"/>
<rect x="857.4" y="291" width="6.2" height="10.0" fill="#2962ff"/>
<path d="M869.4 270V324" stroke="#f23645" stroke-width="1"/>
<rect x="866.3" y="270" width="6.2" height="28.0" fill="#f23645"/>
<path d="M878.2 270V286" stroke="#2962ff" stroke-width="1"/>
<rect x="875.1" y="270" width="6.2" height="16.0" fill="#2962ff"/>
<ellipse cx="878.2" cy="285.7" rx="3.1" ry="2.2" fill="#f23645"/>
<path d="M887.1 288V323" stroke="#2962ff" stroke-width="1"/>
<rect x="884.0" y="288" width="6.2" height="35.0" fill="#2962ff"/>
<path d="M895.9 315V337" stroke="#2962ff" stroke-width="1"/>
<rect x="892.8" y="324" width="6.2" height="13.0" fill="#2962ff"/>
<path d="M904.7 331V360" stroke="#2962ff" stroke-width="1"/>
<rect x="901.6" y="335" width="6.2" height="12.0" fill="#2962ff"/>
<path d="M913.6 340V361" stroke="#f23645" stroke-width="1"/>
<rect x="910.5" y="340" width="6.2" height="7.5" fill="#f23645"/>
<ellipse cx="913.6" cy="340.3" rx="3.1" ry="2.2" fill="#43a047"/>
<path d="M922.4 296V340" stroke="#f23645" stroke-width="1"/>
<rect x="919.3" y="334" width="6.2" height="6.0" fill="#f23645"/>
<path d="M931.3 320V390" stroke="#2962ff" stroke-width="1"/>
<rect x="928.2" y="334" width="6.2" height="51.0" fill="#2962ff"/>
<ellipse cx="931.3" cy="384.7" rx="3.1" ry="2.2" fill="#f23645"/>
<path d="M940.1 351V394" stroke="#f23645" stroke-width="1"/>
<rect x="937.0" y="351" width="6.2" height="25.0" fill="#f23645"/>
<ellipse cx="940.1" cy="351.3" rx="3.1" ry="2.2" fill="#43a047"/>
<path d="M948.9 350.5V372.5" stroke="#2962ff" stroke-width="1"/>
<rect x="945.8" y="350.5" width="6.2" height="22.0" fill="#2962ff"/>
<ellipse cx="948.9" cy="372.2" rx="3.1" ry="2.2" fill="#f23645"/>
<path d="M957.8 344V386" stroke="#f23645" stroke-width="1"/>
<rect x="954.7" y="357.5" width="6.2" height="15.0" fill="#f23645"/>
<ellipse cx="957.8" cy="357.8" rx="3.1" ry="2.2" fill="#43a047"/>
<path d="M966.6 346V366" stroke="#2962ff" stroke-width="1"/>
<rect x="963.5" y="360" width="6.2" height="6.0" fill="#2962ff"/>
<ellipse cx="966.6" cy="365.7" rx="3.1" ry="2.2" fill="#f23645"/>
<path d="M975.4 340V366" stroke="#f23645" stroke-width="1"/>
<rect x="972.3" y="340" width="6.2" height="20.0" fill="#f23645"/>
<ellipse cx="975.4" cy="340.3" rx="3.1" ry="2.2" fill="#43a047"/>
<path d="M984.3 324V365" stroke="#f23645" stroke-width="1"/>
<rect x="981.2" y="325.5" width="6.2" height="1.5" fill="#f23645"/>
<path d="M993.1 324V352" stroke="#2962ff" stroke-width="1"/>
<rect x="990.0" y="324" width="6.2" height="28.0" fill="#2962ff"/>
<ellipse cx="993.1" cy="351.7" rx="3.1" ry="2.2" fill="#f23645"/>
<path d="M1002.0 330V394" stroke="#2962ff" stroke-width="1"/>
<rect x="998.9" y="352" width="6.2" height="42.0" fill="#2962ff"/>
<ellipse cx="1002.0" cy="393.7" rx="3.1" ry="2.2" fill="#f23645"/>
<path d="M1010.8 369V394" stroke="#f23645" stroke-width="1"/>
<rect x="1007.7" y="379" width="6.2" height="15.0" fill="#f23645"/>
<path d="M1019.6 342.5V389" stroke="#f23645" stroke-width="1"/>
<rect x="1016.5" y="342.5" width="6.2" height="35.0" fill="#f23645"/>
<ellipse cx="1019.6" cy="342.8" rx="3.1" ry="2.2" fill="#43a047"/>
<path d="M1028.5 340V404" stroke="#2962ff" stroke-width="1"/>
<rect x="1025.4" y="340" width="6.2" height="7.5" fill="#2962ff"/>
<path d="M1037.3 294V352.5" stroke="#f23645" stroke-width="1"/>
<rect x="1034.2" y="320" width="6.2" height="27.0" fill="#f23645"/>
<path d="M1046.1 282.5V320" stroke="#f23645" stroke-width="1"/>
<rect x="1043.0" y="300.5" width="6.2" height="19.5" fill="#f23645"/>
<path d="M1055.0 268V312.5" stroke="#f23645" stroke-width="1"/>
<rect x="1051.9" y="280" width="6.2" height="20.0" fill="#f23645"/>
<path d="M1063.8 280V309" stroke="#2962ff" stroke-width="1"/>
<rect x="1060.7" y="283" width="6.2" height="21.5" fill="#2962ff"/>
<ellipse cx="1063.8" cy="304.2" rx="3.1" ry="2.2" fill="#f23645"/>
<path d="M1072.7 270V304" stroke="#f23645" stroke-width="1"/>
<rect x="1069.6" y="289" width="6.2" height="15.0" fill="#f23645"/>
<ellipse cx="1072.7" cy="289.3" rx="3.1" ry="2.2" fill="#43a047"/>
<path d="M1081.5 280V327.5" stroke="#2962ff" stroke-width="1"/>
<rect x="1078.4" y="290" width="6.2" height="32.0" fill="#2962ff"/>
<ellipse cx="1081.5" cy="321.7" rx="3.1" ry="2.2" fill="#f23645"/>
<path d="M1090.3 317V340" stroke="#2962ff" stroke-width="1"/>
<rect x="1087.2" y="317" width="6.2" height="12.0" fill="#2962ff"/>
<path d="M1099.2 327V339" stroke="#f23645" stroke-width="1"/>
<rect x="1096.1" y="327" width="6.2" height="3.5" fill="#f23645"/>
<path d="M1108.0 301V436" stroke="#2962ff" stroke-width="1"/>
<rect x="1104.9" y="325" width="6.2" height="85.0" fill="#2962ff"/>
<ellipse cx="1108.0" cy="409.7" rx="3.1" ry="2.2" fill="#f23645"/>
<path d="M1116.8 264.5V411" stroke="#f23645" stroke-width="1"/>
<rect x="1113.8" y="292.5" width="6.2" height="118.5" fill="#f23645"/>
<ellipse cx="1116.8" cy="292.8" rx="3.1" ry="2.2" fill="#43a047"/>
<path d="M1125.7 263V289" stroke="#f23645" stroke-width="1"/>
<rect x="1122.6" y="263" width="6.2" height="26.0" fill="#f23645"/>
<path d="M1134.5 256V464" stroke="#2962ff" stroke-width="1"/>
<rect x="1131.4" y="266" width="6.2" height="178.0" fill="#2962ff"/>
<ellipse cx="1134.5" cy="443.7" rx="3.1" ry="2.2" fill="#f23645"/>
<path d="M1143.4 324V555" stroke="#f23645" stroke-width="1"/>
<rect x="1140.3" y="335.5" width="6.2" height="112.0" fill="#f23645"/>
<ellipse cx="1143.4" cy="335.8" rx="3.1" ry="2.2" fill="#43a047"/>
<path d="M1152.2 340V501" stroke="#2962ff" stroke-width="1"/>
<rect x="1149.1" y="340" width="6.2" height="127.0" fill="#2962ff"/>
<ellipse cx="1152.2" cy="466.7" rx="3.1" ry="2.2" fill="#f23645"/>
<path d="M1161.0 402.5V466" stroke="#f23645" stroke-width="1"/>
<rect x="1157.9" y="429" width="6.2" height="37.0" fill="#f23645"/>
<path d="M1169.9 371V437.5" stroke="#f23645" stroke-width="1"/>
<rect x="1166.8" y="389.5" width="6.2" height="41.5" fill="#f23645"/>
<ellipse cx="1169.9" cy="389.8" rx="3.1" ry="2.2" fill="#43a047"/>
<path d="M1178.7 391V493" stroke="#2962ff" stroke-width="1"/>
<rect x="1175.6" y="391" width="6.2" height="91.0" fill="#2962ff"/>
<ellipse cx="1178.7" cy="481.7" rx="3.1" ry="2.2" fill="#f23645"/>
<path d="M702 250L745 463M754 414.5L807 546M824 419L789.5 520M896.5 251L841 469M871 283L1002.5 411" stroke="#000" stroke-width="1.4" fill="none" stroke-linecap="round"/>
<g fill="none" stroke="#555" stroke-width="0.8" stroke-dasharray="1 1.2">
<path d="M705 252H737M737 252Q737 276 715 285"/>
<path d="M873 280H905M905 280Q905 293 895 302"/>
<path d="M754 414.5H788M788 414.5Q788 434 770 445"/>
<path d="M842 469.5H878M878 469.5Q876 442 851 435.5"/>
<path d="M790 522H823M823 522Q820 500 802.5 489"/>
</g>
<g font-family="Liberation Sans, sans-serif" font-size="8.6" fill="#2962ff">
<text x="744" y="255">-78º</text><text x="912" y="283">-45º</text><text x="799" y="417.5">68º</text><text x="885" y="472.5">76º</text><text x="832" y="525">72º</text>
</g>
<circle cx="1178.4" cy="576.4" r="6.6" fill="#fff" stroke="#9c27b0" stroke-width="1.2"/>
<path d="M1179.6 572l-4 5h2.6l-1 4 4-5.2h-2.6z" fill="#9c27b0"/>
</g>
<g font-family="Liberation Sans, sans-serif" font-size="8.3" fill="#333">
<text x="1278" y="44.3">147.460</text>
<text x="1278" y="77.9">147.440</text>
<text x="1278" y="111.5">147.420</text>
<text x="1278" y="145.1">147.400</text>
<text x="1278" y="178.7">147.380</text>
<text x="1278" y="212.3">147.360</text>
<text x="1278" y="245.9">147.340</text>
<text x="1278" y="279.4">147.320</text>
<text x="1278" y="313.0">147.300</text>
<text x="1278" y="346.6">147.280</text>
<text x="1278" y="380.2">147.260</text>
<text x="1278" y="413.8">147.240</text>
<text x="1278" y="447.4">147.220</text>
<text x="1278" y="481.0">147.200</text>
<text x="1278" y="514.6">147.180</text>
<text x="1278" y="548.2">147.160</text>
<text x="1278" y="581.8">147.140</text>
</g>
<rect x="1273" y="22" width="39.5" height="18.5" rx="3" fill="#fff" stroke="#e9eaee"/>
<text x="1280.5" y="35" font-family="Liberation Sans, sans-serif" font-size="8.3" fill="#333">JPY</text>
<rect x="1247" y="117.5" width="65" height="11.5" fill="#f23645"/>
<path d="M1270 117.5v11.5" stroke="#fff" stroke-width="0.8" opacity="0.7"/>
<text x="1249.5" y="126.5" font-family="Liberation Sans, Noto Sans CJK JP, sans-serif" font-size="8.6" font-weight="bold" fill="#fff">高値</text>
<text x="1278" y="126.3" font-family="Liberation Sans, sans-serif" font-size="8.3" font-weight="bold" fill="#fff">147.411</text>
<rect x="1247" y="549.5" width="65" height="11.5" fill="#f23645"/>
<path d="M1270 549.5v11.5" stroke="#fff" stroke-width="0.8" opacity="0.7"/>
<text x="1249.5" y="558.5" font-family="Liberation Sans, Noto Sans CJK JP, sans-serif" font-size="8.6" font-weight="bold" fill="#fff">安値</text>
<text x="1278" y="558.3" font-family="Liberation Sans, sans-serif" font-size="8.3" font-weight="bold" fill="#fff">147.154</text>
<rect x="1270.8" y="360.8" width="41.200000000000045" height="12.199999999999989" fill="#1ab6cf"/>
<text x="1278" y="370" font-family="Liberation Sans, sans-serif" font-size="8.3" font-weight="normal" fill="#0b4450">147.263</text>
<rect x="1270.8" y="373" width="41.200000000000045" height="12" fill="#000"/>
<text x="1278" y="382" font-family="Liberation Sans, sans-serif" font-size="8.3" font-weight="bold" fill="#fff">147.256</text>
<rect x="1270.8" y="385" width="41.200000000000045" height="12" fill="#43a047"/>
<text x="1278" y="394" font-family="Liberation Sans, sans-serif" font-size="8.3" font-weight="bold" fill="#fff">147.252</text>
<rect x="1270.8" y="428" width="41.200000000000045" height="35" fill="#2962ff"/>
<text x="1278" y="437.5" font-family="Liberation Sans, sans-serif" font-size="8.3" font-weight="bold" fill="#fff">147.213</text>
<text x="1278" y="450" font-family="Liberation Sans, sans-serif" font-size="8.3" font-weight="bold" fill="#fff">147.198</text>
<text x="1278" y="460" font-family="Liberation Sans, sans-serif" font-size="8.3" fill="#d6e0ff">00:24</text>
<rect x="1270.8" y="463" width="41.200000000000045" height="12.5" fill="#f23645"/>
<text x="1278" y="472" font-family="Liberation Sans, sans-serif" font-size="8.3" font-weight="bold" fill="#fff">147.198</text>
<rect x="1270.8" y="475.5" width="41.200000000000045" height="11.5" fill="#0ecb5d"/>
<text x="1278" y="484" font-family="Liberation Sans, sans-serif" font-size="8.3" font-weight="normal" fill="#0a4a22">147.198</text>
<g font-family="Liberation Sans, sans-serif" font-size="8.3" fill="#444" text-anchor="middle">
<text x="47.5" y="598">07:50</text>
<text x="135.8" y="598">08:00</text>
<text x="224.2" y="598">08:10</text>
<text x="312.5" y="598">08:20</text>
<text x="400.9" y="598">08:30</text>
<text x="489.2" y="598">08:40</text>
<text x="577.6" y="598">08:50</text>
<text x="665.9" y="598">09:00</text>
<text x="754.3" y="598">09:10</text>
<text x="842.6" y="598">09:20</text>
<text x="931.0" y="598">09:30</text>
<text x="1019.3" y="598">09:40</text>
<text x="1107.7" y="598">09:50</text>
<text x="1196" y="598" fill="#111" stroke="#111" stroke-width="0.25">10:00</text>
</g>
<rect x="85.3" y="585.7" width="103.5" height="17.1" fill="#000"/>
<text x="91.6" y="598.6" font-family="Liberation Sans, Noto Sans CJK JP, sans-serif" font-size="8.3" font-weight="bold" fill="#fff" textLength="60" lengthAdjust="spacingAndGlyphs">2024-08-15 (木)</text>
<text x="159.9" y="598.6" font-family="Liberation Sans, sans-serif" font-size="8.3" font-weight="bold" fill="#fff" textLength="21.5" lengthAdjust="spacingAndGlyphs">08:00</text>
<rect x="94.3" y="585.7" width="103.5" height="17.1" fill="#f23645"/>
<text x="100.6" y="598.6" font-family="Liberation Sans, Noto Sans CJK JP, sans-serif" font-size="8.3" font-weight="bold" fill="#fff" textLength="60" lengthAdjust="spacingAndGlyphs">2024-08-15 (木)</text>
<text x="168.9" y="598.6" font-family="Liberation Sans, sans-serif" font-size="8.3" font-weight="bold" fill="#fff" textLength="21.5" lengthAdjust="spacingAndGlyphs">08:01</text>
<rect x="104.0" y="585.7" width="103.5" height="17.1" fill="#f23645"/>
<text x="110.3" y="598.6" font-family="Liberation Sans, Noto Sans CJK JP, sans-serif" font-size="8.3" font-weight="bold" fill="#fff" textLength="60" lengthAdjust="spacingAndGlyphs">2024-08-15 (木)</text>
<text x="178.6" y="598.6" font-family="Liberation Sans, sans-serif" font-size="8.3" font-weight="bold" fill="#fff" textLength="21.5" lengthAdjust="spacingAndGlyphs">08:02</text>
<rect x="111.7" y="585.7" width="103.5" height="17.1" fill="#000"/>
<text x="118.0" y="598.6" font-family="Liberation Sans, Noto Sans CJK JP, sans-serif" font-size="8.3" font-weight="bold" fill="#fff" textLength="60" lengthAdjust="spacingAndGlyphs">2024-08-15 (木)</text>
<text x="186.3" y="598.6" font-family="Liberation Sans, sans-serif" font-size="8.3" font-weight="bold" fill="#fff" textLength="21.5" lengthAdjust="spacingAndGlyphs">08:03</text>
<rect x="129.0" y="585.7" width="103.5" height="17.1" fill="#f23645"/>
<text x="135.3" y="598.6" font-family="Liberation Sans, Noto Sans CJK JP, sans-serif" font-size="8.3" font-weight="bold" fill="#fff" textLength="60" lengthAdjust="spacingAndGlyphs">2024-08-15 (木)</text>
<text x="203.6" y="598.6" font-family="Liberation Sans, sans-serif" font-size="8.3" font-weight="bold" fill="#fff" textLength="21.5" lengthAdjust="spacingAndGlyphs">08:05</text>
<rect x="218.0" y="585.7" width="103.5" height="17.1" fill="#f23645"/>
<text x="224.3" y="598.6" font-family="Liberation Sans, Noto Sans CJK JP, sans-serif" font-size="8.3" font-weight="bold" fill="#fff" textLength="60" lengthAdjust="spacingAndGlyphs">2024-08-15 (木)</text>
<text x="292.6" y="598.6" font-family="Liberation Sans, sans-serif" font-size="8.3" font-weight="bold" fill="#fff" textLength="21.5" lengthAdjust="spacingAndGlyphs">08:15</text>
<rect x="288.7" y="585.7" width="103.5" height="17.1" fill="#f23645"/>
<text x="295.0" y="598.6" font-family="Liberation Sans, Noto Sans CJK JP, sans-serif" font-size="8.3" font-weight="bold" fill="#fff" textLength="60" lengthAdjust="spacingAndGlyphs">2024-08-15 (木)</text>
<text x="363.3" y="598.6" font-family="Liberation Sans, sans-serif" font-size="8.3" font-weight="bold" fill="#fff" textLength="21.5" lengthAdjust="spacingAndGlyphs">08:23</text>
<rect x="297.4" y="585.7" width="103.5" height="17.1" fill="#f23645"/>
<text x="303.7" y="598.6" font-family="Liberation Sans, Noto Sans CJK JP, sans-serif" font-size="8.3" font-weight="bold" fill="#fff" textLength="60" lengthAdjust="spacingAndGlyphs">2024-08-15 (木)</text>
<text x="372.0" y="598.6" font-family="Liberation Sans, sans-serif" font-size="8.3" font-weight="bold" fill="#fff" textLength="21.5" lengthAdjust="spacingAndGlyphs">08:24</text>
<rect x="306.0" y="585.7" width="103.5" height="17.1" fill="#f23645"/>
<text x="312.3" y="598.6" font-family="Liberation Sans, Noto Sans CJK JP, sans-serif" font-size="8.3" font-weight="bold" fill="#fff" textLength="60" lengthAdjust="spacingAndGlyphs">2024-08-15 (木)</text>
<text x="380.6" y="598.6" font-family="Liberation Sans, sans-serif" font-size="8.3" font-weight="bold" fill="#fff" textLength="21.5" lengthAdjust="spacingAndGlyphs">08:25</text>
<rect x="739.0" y="585.7" width="103.5" height="17.1" fill="#000"/>
<text x="745.3" y="598.6" font-family="Liberation Sans, Noto Sans CJK JP, sans-serif" font-size="8.3" font-weight="bold" fill="#fff" textLength="60" lengthAdjust="spacingAndGlyphs">2024-08-15 (木)</text>
<text x="813.6" y="598.6" font-family="Liberation Sans, sans-serif" font-size="8.3" font-weight="bold" fill="#fff" textLength="21.5" lengthAdjust="spacingAndGlyphs">09:14</text>
<rect x="747.7" y="585.7" width="103.5" height="17.1" fill="#000"/>
<text x="754.0" y="598.6" font-family="Liberation Sans, Noto Sans CJK JP, sans-serif" font-size="8.3" font-weight="bold" fill="#fff" textLength="60" lengthAdjust="spacingAndGlyphs">2024-08-15 (木)</text>
<text x="822.3" y="598.6" font-family="Liberation Sans, sans-serif" font-size="8.3" font-weight="bold" fill="#fff" textLength="21.5" lengthAdjust="spacingAndGlyphs">09:15</text>
<rect x="781.5" y="585.7" width="103.5" height="17.1" fill="#000"/>
<text x="787.8" y="598.6" font-family="Liberation Sans, Noto Sans CJK JP, sans-serif" font-size="8.3" font-weight="bold" fill="#fff" textLength="60" lengthAdjust="spacingAndGlyphs">2024-08-15 (木)</text>
<text x="856.1" y="598.6" font-family="Liberation Sans, sans-serif" font-size="8.3" font-weight="bold" fill="#fff" textLength="21.5" lengthAdjust="spacingAndGlyphs">09:19</text>
<rect x="774.7" y="585.7" width="101.3" height="17.1" fill="#000"/>
<text x="781.0" y="598.6" font-family="Liberation Sans, Noto Sans CJK JP, sans-serif" font-size="8.3" font-weight="bold" fill="#fff" textLength="60" lengthAdjust="spacingAndGlyphs">2024-08-15 (木)</text>
<text x="849.3" y="598.6" font-family="Liberation Sans, sans-serif" font-size="8.3" font-weight="bold" fill="#fff" textLength="21.5" lengthAdjust="spacingAndGlyphs">09:18</text>
<rect x="897.0" y="585.7" width="103" height="17.1" fill="#f23645"/>
<text x="903.3" y="598.6" font-family="Liberation Sans, Noto Sans CJK JP, sans-serif" font-size="8.3" font-weight="bold" fill="#fff" textLength="60" lengthAdjust="spacingAndGlyphs">2024-08-15 (木)</text>
<text x="971.6" y="598.6" font-family="Liberation Sans, sans-serif" font-size="8.3" font-weight="bold" fill="#fff" textLength="21.5" lengthAdjust="spacingAndGlyphs">09:32</text>
<text x="7.5" y="13.6" font-family="Liberation Sans, Noto Sans CJK JP, sans-serif" font-size="8.8" fill="#333" stroke="#333" stroke-width="0.15" textLength="265" lengthAdjust="spacingAndGlyphs">furu-bianca が TradingView.com で 8月 15, 2024 09:58 UTC+9 に公開</text>
<text x="13" y="32.9" font-family="Liberation Sans, Noto Sans CJK JP, sans-serif" font-size="8.3" fill="#333" stroke="#333" stroke-width="0.18" textLength="85.8" lengthAdjust="spacingAndGlyphs">米ドル／円, 1, OANDA</text>
<text x="105" y="32.9" font-family="Liberation Sans, Noto Sans CJK JP, sans-serif" font-size="8.3" fill="#333" stroke="#333" stroke-width="0.18" textLength="16.3" lengthAdjust="spacingAndGlyphs">始値</text>
<text x="121.8" y="32.9" font-family="Liberation Sans, Noto Sans CJK JP, sans-serif" font-size="8.3" fill="#2962ff" stroke="#2962ff" stroke-width="0.18" textLength="29.2" lengthAdjust="spacingAndGlyphs">147.252</text>
<text x="158" y="32.9" font-family="Liberation Sans, Noto Sans CJK JP, sans-serif" font-size="8.3" fill="#333" stroke="#333" stroke-width="0.18" textLength="16.3" lengthAdjust="spacingAndGlyphs">高値</text>
<text x="174.6" y="32.9" font-family="Liberation Sans, Noto Sans CJK JP, sans-serif" font-size="8.3" fill="#2962ff" stroke="#2962ff" stroke-width="0.18" textLength="29.9" lengthAdjust="spacingAndGlyphs">147.252</text>
<text x="210.5" y="32.9" font-family="Liberation Sans, Noto Sans CJK JP, sans-serif" font-size="8.3" fill="#333" stroke="#333" stroke-width="0.18" textLength="16.3" lengthAdjust="spacingAndGlyphs">安値</text>
<text x="227.2" y="32.9" font-family="Liberation Sans, Noto Sans CJK JP, sans-serif" font-size="8.3" fill="#2962ff" stroke="#2962ff" stroke-width="0.18" textLength="29.8" lengthAdjust="spacingAndGlyphs">147.191</text>
<text x="263" y="32.9" font-family="Liberation Sans, Noto Sans CJK JP, sans-serif" font-size="8.3" fill="#333" stroke="#333" stroke-width="0.18" textLength="16.5" lengthAdjust="spacingAndGlyphs">終値</text>
<text x="280" y="32.9" font-family="Liberation Sans, Noto Sans CJK JP, sans-serif" font-size="8.3" fill="#2962ff" stroke="#2962ff" stroke-width="0.18" textLength="30.5" lengthAdjust="spacingAndGlyphs">147.198</text>
<text x="316" y="32.9" font-family="Liberation Sans, Noto Sans CJK JP, sans-serif" font-size="8.3" fill="#2962ff" stroke="#2962ff" stroke-width="0.18" textLength="61.0" lengthAdjust="spacingAndGlyphs">−0.054 (−0.04%)</text>
<text x="13" y="45.7" font-family="Liberation Sans, Noto Sans CJK JP, sans-serif" font-size="8.3" fill="#333" stroke="#333" stroke-width="0.18" textLength="161.0" lengthAdjust="spacingAndGlyphs">LuxAlgo - Range Detector (15, 0.9, 1,000)</text>
<text x="13" y="57.4" font-family="Liberation Sans, Noto Sans CJK JP, sans-serif" font-size="8.3" fill="#333" stroke="#333" stroke-width="0.18" textLength="140.0" lengthAdjust="spacingAndGlyphs">3MA CROSS TrendIndicator (1, 2, 21)</text>
<text x="159.5" y="57.4" font-family="Liberation Sans, Noto Sans CJK JP, sans-serif" font-size="8.3" fill="#10d468" stroke="#10d468" stroke-width="0.18" textLength="29.5" lengthAdjust="spacingAndGlyphs">147.198</text>
<text x="194.5" y="57.4" font-family="Liberation Sans, Noto Sans CJK JP, sans-serif" font-size="8.3" fill="#2962ff" stroke="#2962ff" stroke-width="0.18" textLength="29.5" lengthAdjust="spacingAndGlyphs">147.213</text>
<text x="230" y="57.4" font-family="Liberation Sans, Noto Sans CJK JP, sans-serif" font-size="8.3" fill="#17b8d0" stroke="#17b8d0" stroke-width="0.18" textLength="30.0" lengthAdjust="spacingAndGlyphs">147.263</text>
<text x="265.5" y="57.4" font-family="DejaVu Sans, sans-serif" font-size="7.6" fill="#333">∅</text>
<text x="278" y="57.4" font-family="DejaVu Sans, sans-serif" font-size="7.6" fill="#333">∅</text>
<text x="290" y="57.4" font-family="Liberation Sans, Noto Sans CJK JP, sans-serif" font-size="8.3" fill="#f23645" stroke="#f23645" stroke-width="0.18" textLength="29.5" lengthAdjust="spacingAndGlyphs">147.198</text>
<text x="325" y="57.4" font-family="DejaVu Sans, sans-serif" font-size="7.6" fill="#333">∅</text>
<text x="338" y="57.4" font-family="Liberation Sans, Noto Sans CJK JP, sans-serif" font-size="8.3" fill="#000" stroke="#000" stroke-width="0.18" textLength="21.0" lengthAdjust="spacingAndGlyphs">1.000</text>
<text x="365" y="57.4" font-family="Liberation Sans, Noto Sans CJK JP, sans-serif" font-size="8.3" fill="#f23645" stroke="#f23645" stroke-width="0.18" textLength="20.7" lengthAdjust="spacingAndGlyphs">0.000</text>
<path d="M7 614.6h6.7v6.9h-3.6v-4.1h-3.1z M16.2 616a1.3 1.3 0 1 1 -2.6 0a1.3 1.3 0 1 1 2.6 0z M17.6 614.6h3.3l-3.3 6.9h-3.3z" fill="#131722"/>
<text x="24.2" y="621.6" font-family="Liberation Sans, sans-serif" font-size="9.2" fill="#2a2e39" textLength="50" lengthAdjust="spacingAndGlyphs">TradingView</text>
</svg>
</body></html>
